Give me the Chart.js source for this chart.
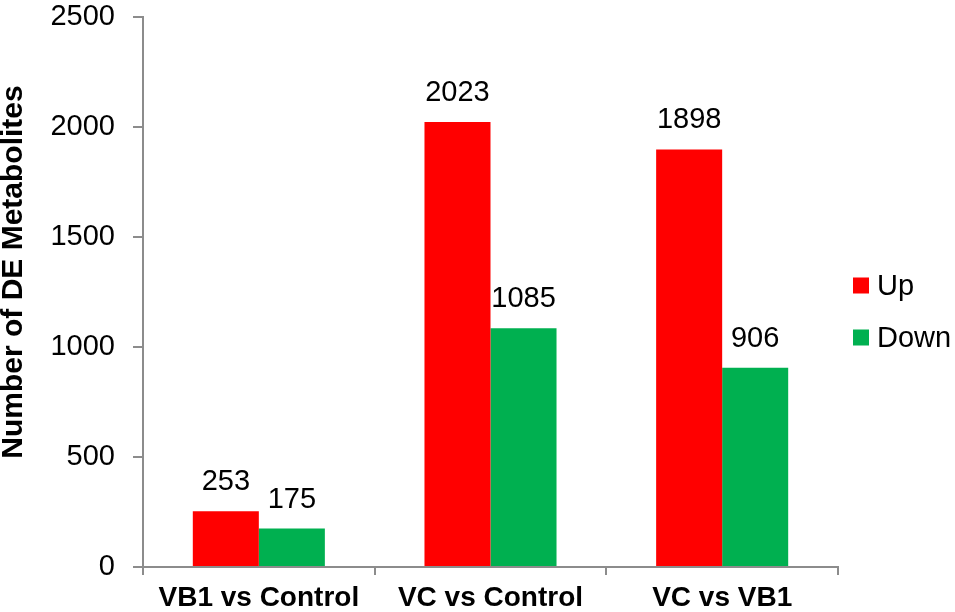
<!DOCTYPE html>
<html>
<head>
<meta charset="utf-8">
<script src="https://cdn.jsdelivr.net/npm/chart.js@4/dist/chart.umd.min.js"></script>
<style>
  body { margin: 0; background: #fff; }
  #wrap { width: 955px; height: 612px; position: relative; }
</style>
</head>
<body>
<div id="wrap"><canvas id="deChart"></canvas></div>
<script>
// chart data
var categories = ['VB1 vs Control', 'VC vs Control', 'VC vs VB1'];
var upValues = [253, 2023, 1898];
var downValues = [175, 1085, 906];
var yTicks = [0, 500, 1000, 1500, 2000, 2500];
var yTitle = 'Number of DE Metabolites';

var axisGray = '#8c8c8c';
var fontFamily = '"Liberation Sans", Arial, sans-serif';

// draw the numbers above each bar
var valueLabels = {
    id: 'valueLabels',
    afterDatasetsDraw: function(chart) {
        var ctx = chart.ctx;
        ctx.save();
        ctx.font = '29px ' + fontFamily;
        ctx.fillStyle = '#000';
        ctx.textAlign = 'center';
        ctx.textBaseline = 'alphabetic';
        chart.data.datasets.forEach(function(ds, i) {
            chart.getDatasetMeta(i).data.forEach(function(bar, j) {
                ctx.fillText(ds.data[j], bar.x, bar.y - 21);
            });
        });
        ctx.restore();
    }
};

// y title and legend, placed by hand to sit like the original
var sideText = {
    id: 'sideText',
    afterDraw: function(chart) {
        var ctx = chart.ctx;
        var area = chart.chartArea;
        var mid = (area.top + area.bottom) / 2;

        ctx.save();
        ctx.translate(14, mid - 20);
        ctx.rotate(-Math.PI / 2);
        ctx.font = 'bold 30px ' + fontFamily;
        ctx.fillStyle = '#000';
        ctx.textAlign = 'center';
        ctx.textBaseline = 'middle';
        ctx.fillText(yTitle, 0, 0);
        ctx.restore();

        var x = area.right + 15;
        var y = mid - 6.5;
        ctx.save();
        ctx.font = '29px ' + fontFamily;
        ctx.textBaseline = 'middle';
        ctx.textAlign = 'left';
        chart.data.datasets.forEach(function(ds, i) {
            var cy = y + i * 52;
            ctx.fillStyle = ds.backgroundColor;
            ctx.fillRect(x, cy - 8, 16, 16);
            ctx.fillStyle = '#000';
            ctx.fillText(ds.label, x + 24, cy + 1);
        });
        ctx.restore();
    }
};

new Chart(document.getElementById('deChart'), {
    type: 'bar',
    data: {
        labels: categories,
        datasets: [{
            label: 'Up',
            data: upValues,
            backgroundColor: '#ff0000'
        }, {
            label: 'Down',
            data: downValues,
            backgroundColor: '#00b050'
        }]
    },
    options: {
        responsive: true,
        maintainAspectRatio: false,
        animation: false,
        categoryPercentage: 0.57,
        barPercentage: 1.0,
        layout: {
            padding: { top: 0, right: 117, bottom: 0, left: 0 }
        },
        plugins: {
            tooltip: { enabled: false },
            legend: { display: false }
        },
        scales: {
            x: {
                afterFit: function(axis) {
                    axis.height = 45;
                    axis.paddingLeft = 0;
                    axis.paddingRight = 0;
                },
                grid: {
                    display: true,
                    drawOnChartArea: false,
                    offset: true,
                    tickLength: 8,
                    color: axisGray,
                    lineWidth: 2
                },
                border: { color: axisGray, width: 2 },
                ticks: {
                    color: '#000',
                    padding: 9,
                    maxRotation: 0,
                    font: { family: fontFamily, size: 28, weight: 'bold', lineHeight: 1 }
                }
            },
            y: {
                min: 0,
                max: 2500,
                afterBuildTicks: function(axis) {
                    axis.ticks = yTicks.map(function(v) { return { value: v }; });
                },
                afterFit: function(axis) {
                    axis.width = 143;
                    axis.paddingTop = 17;
                    axis.paddingBottom = 0;
                },
                grid: {
                    display: true,
                    drawOnChartArea: false,
                    tickLength: 10,
                    color: axisGray,
                    lineWidth: 2
                },
                border: { color: axisGray, width: 2 },
                ticks: {
                    color: '#000',
                    padding: 18,
                    font: { family: fontFamily, size: 29 },
                    callback: function(value) { return String(value); }
                }
            }
        }
    },
    plugins: [valueLabels, sideText]
});
</script>
</body>
</html>
